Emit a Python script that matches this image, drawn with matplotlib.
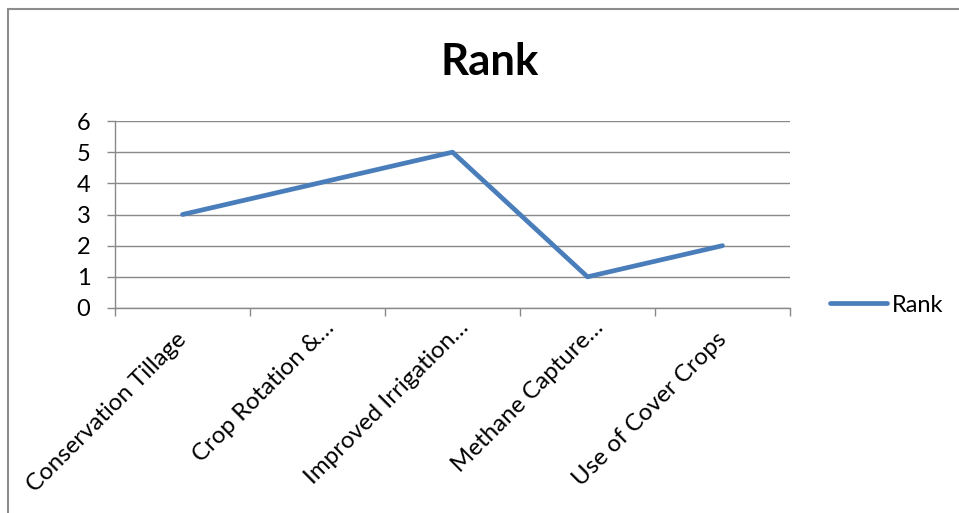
import matplotlib
matplotlib.use("Agg")
import matplotlib.pyplot as plt
import matplotlib.transforms as mtransforms
from matplotlib.patches import Rectangle
from matplotlib.ticker import FixedLocator, NullFormatter

plt.rcParams['font.family'] = ['Lato', 'DejaVu Sans']

categories = ["Conservation Tillage", "Crop Rotation &…", "Improved Irrigation…",
              "Methane Capture…", "Use of Cover Crops"]
rank = [3, 4, 5, 1, 2]
y_ticks = [0, 1, 2, 3, 4, 5, 6]
series_name = "Rank"

W, H, DPI = 959, 513, 100
LINE = "#4A7EBB"
GRID = "#898989"
PX = 72.0 / DPI  # points per pixel

fig = plt.figure(figsize=(W / DPI, H / DPI), dpi=DPI)
fig.patch.set_facecolor("white")

# chart frame (open towards right/bottom edges of the canvas)
fig.add_artist(Rectangle((8 / W, -0.2), 1.5, 1.2 - 9 / H, transform=fig.transFigure,
                         fill=False, edgecolor="#8c8c8c", linewidth=1.5))

ax = fig.add_axes([115 / W, 1 - 308 / H, (790 - 115) / W, (308 - 121) / H])
x = list(range(len(categories)))
ax.plot(x, rank, color=LINE, linewidth=3.4, solid_capstyle="round",
        solid_joinstyle="round", label=series_name, zorder=3)

ax.set_xlim(-0.5, len(categories) - 0.5)
ax.set_ylim(min(y_ticks), max(y_ticks))
ax.set_yticks(y_ticks)
ax.grid(axis="y", color=GRID, linewidth=1.0, zorder=0)
ax.set_axisbelow(True)

for s in ("top", "right"):
    ax.spines[s].set_visible(False)
for s in ("left", "bottom"):
    ax.spines[s].set_color(GRID)
    ax.spines[s].set_linewidth(1.0)

ax.tick_params(axis="y", direction="out", length=8 * PX, width=1.0, color=GRID,
               pad=12, labelsize=17, labelcolor="black")
ax.set_xticks(x)
ax.xaxis.set_major_formatter(NullFormatter())
ax.tick_params(axis="x", which="major", length=0)
ax.xaxis.set_minor_locator(FixedLocator([i - 0.5 for i in range(len(categories) + 1)]))
ax.tick_params(axis="x", which="minor", direction="out", length=8 * PX, width=1.0,
               color=GRID)

# rotated category labels, anchored at their baseline end
base = mtransforms.blended_transform_factory(ax.transData, ax.transAxes)
for xi, lab in zip(x, categories):
    along = 17 if lab.endswith("…") else 0
    dx = (5.5 + along * 0.707) * PX
    dy = (-33 + along * 0.707) * PX
    tr = base + mtransforms.ScaledTranslation(dx / 72, dy / 72, fig.dpi_scale_trans)
    ax.text(xi, 0, lab, transform=tr, rotation=45, rotation_mode="anchor",
            ha="right", va="baseline", fontsize=17.3, color="black")

fig.text(490 / W, 1 - 75 / H, "Rank", ha="center", va="baseline",
         fontsize=31.5, fontweight="bold", color="black")

fig.legend(loc="center left", bbox_to_anchor=(830 / W, 1 - 305 / H), frameon=False,
           fontsize=17, handlelength=2.4, handletextpad=0.2, borderpad=0,
           borderaxespad=0)

fig.savefig("out.png", dpi=DPI)
